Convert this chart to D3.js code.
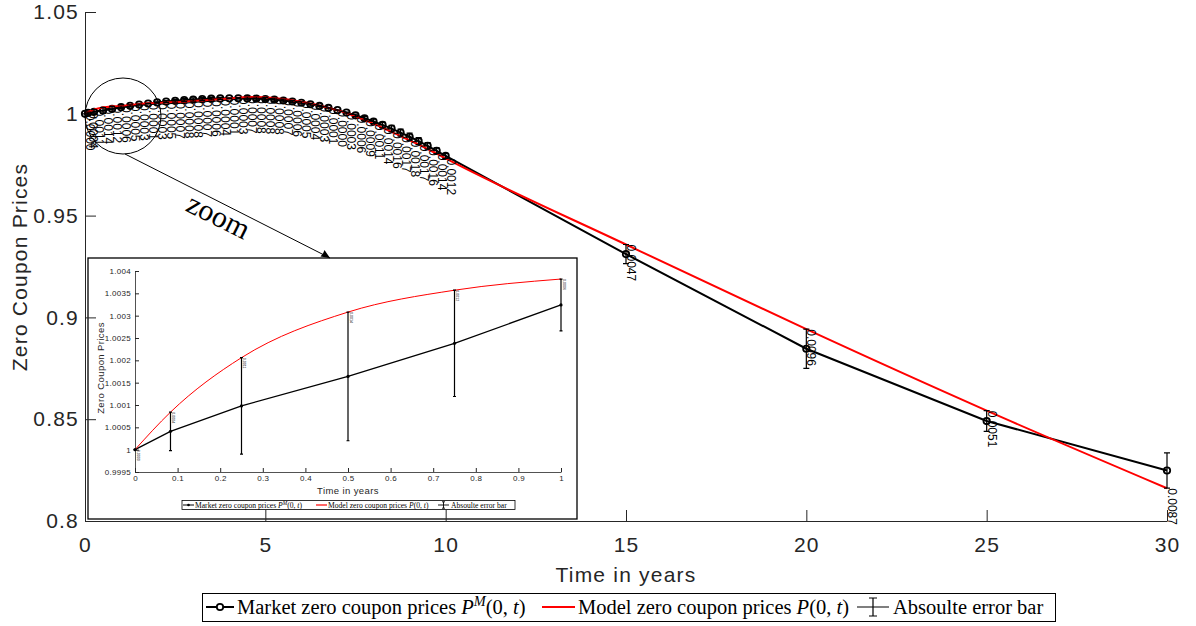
<!DOCTYPE html>
<html>
<head>
<meta charset="utf-8">
<script src="https://cdn.jsdelivr.net/npm/d3@7/dist/d3.min.js"></script>
<style>
  body { margin: 0; background: #fff; }
  svg { display: block; }
</style>
</head>
<body>
<svg id="chart" width="1196" height="626"></svg>
<script>
// maturities (years) and prices
var times = [0, 0.0833, 0.25, 0.5, 0.75, 1, 1.25, 1.5, 1.75, 2, 2.25, 2.5, 2.75, 3, 3.25, 3.5, 3.75, 4,
  4.25, 4.5, 4.75, 5, 5.25, 5.5, 5.75, 6, 6.25, 6.5, 6.75, 7, 7.25, 7.5, 7.75, 8, 8.25, 8.5, 8.75, 9,
  9.25, 9.5, 9.75, 10, 15, 20, 25, 30];
var marketPrices = [1.00000, 1.00041, 1.00098, 1.00164, 1.00238, 1.00324, 1.00390, 1.00451, 1.00507,
  1.00557, 1.00602, 1.00641, 1.00675, 1.00703, 1.00725, 1.00742, 1.00753, 1.00759, 1.00760, 1.00755,
  1.00744, 1.00724, 1.00694, 1.00654, 1.00604, 1.00542, 1.00470, 1.00385, 1.00288, 1.00179, 1.00058,
  0.99925, 0.99780, 0.99623, 0.99453, 0.99272, 0.99078, 0.98872, 0.98655, 0.98425, 0.98183, 0.97929,
  0.9311, 0.8846, 0.8491, 0.8248];
var modelPrices = [1.00000, 1.00084, 1.00206, 1.00308, 1.00357, 1.00382, 1.00440, 1.00481, 1.00517,
  1.00527, 1.00552, 1.00571, 1.00595, 1.00623, 1.00655, 1.00682, 1.00713, 1.00749, 1.00790, 1.00825,
  1.00824, 1.00804, 1.00774, 1.00724, 1.00664, 1.00592, 1.00510, 1.00415, 1.00298, 1.00179, 1.00028,
  0.99865, 0.99690, 0.99513, 0.99313, 0.99112, 0.98908, 0.98692, 0.98485, 0.98265, 0.98043, 0.97809,
  0.9358, 0.8942, 0.8542, 0.8161];

var xTicks = [0, 5, 10, 15, 20, 25, 30];
var yTicks = [0.8, 0.85, 0.9, 0.95, 1, 1.05];
var insetMaxTime = 1;
var insetXTicks = [0, 0.1, 0.2, 0.3, 0.4, 0.5, 0.6, 0.7, 0.8, 0.9, 1];
var insetYTicks = [0.9995, 1, 1.0005, 1.001, 1.0015, 1.002, 1.0025, 1.003, 1.0035, 1.004];
var seriesNames = ['Market zero coupon prices ', 'Model zero coupon prices ', 'Absoulte error bar'];

var sans = '"Liberation Sans", Arial, Helvetica, sans-serif';
var serif = '"Liberation Serif", "Times New Roman", serif';
var axisColor = '#262626';

var svg = d3.select('#chart');

var points = times.map(function(t, i) {
  return { t: t, m: marketPrices[i], p: modelPrices[i], e: Math.abs(modelPrices[i] - marketPrices[i]) };
});

// error bar path, symmetric around the market price
function errPath(xs, ys, cap) {
  return function(d) {
    var xx = xs(d.t), y0 = ys(d.m - d.e), y1 = ys(d.m + d.e);
    return 'M' + xx + ',' + y0 + 'V' + y1 +
      'M' + (xx - cap) + ',' + y0 + 'H' + (xx + cap) +
      'M' + (xx - cap) + ',' + y1 + 'H' + (xx + cap);
  };
}

// legend text with P^M(0,t) / P(0,t)
function mathText(g, x0, yb, size, name, sup) {
  var t = g.append('text').attr('x', x0).attr('y', yb)
    .style('font-family', serif).style('font-size', size + 'px').attr('fill', '#000');
  t.append('tspan').text(name);
  t.append('tspan').style('font-style', 'italic').text('P');
  if (sup) {
    t.append('tspan').style('font-style', 'italic').style('font-size', (size * 0.7) + 'px')
      .attr('dy', -size * 0.38).text(sup);
    t.append('tspan').attr('dy', size * 0.38).text('(0, ');
  } else {
    t.append('tspan').text('(0, ');
  }
  t.append('tspan').style('font-style', 'italic').text('t');
  t.append('tspan').text(')');
}

function styleAxis(g, size, spacing) {
  g.select('.domain').attr('stroke', axisColor).attr('stroke-width', 1);
  g.selectAll('.tick line').attr('stroke', axisColor);
  g.selectAll('.tick text').attr('fill', axisColor)
    .style('font-family', sans).style('font-size', size + 'px').style('letter-spacing', spacing + 'px');
}

// ---------- inset (drawn first, main axes sit on top of it) ----------
var inset = svg.append('g');
inset.append('rect').attr('x', 88).attr('y', 258).attr('width', 489).attr('height', 261)
  .attr('fill', '#fff').attr('stroke', '#000').attr('stroke-width', 1.3);

var ix = d3.scaleLinear().domain([0, 1]).range([135, 561]);
var iy = d3.scaleLinear().domain([0.9995, 1.004]).range([472, 271]);
var insetPts = points.filter(function(d) { return d.t <= insetMaxTime; });

var ixAxis = inset.append('g').attr('transform', 'translate(0,472)')
  .call(d3.axisBottom(ix).tickValues(insetXTicks).tickSizeInner(-4).tickSizeOuter(0).tickPadding(3)
    .tickFormat(function(d) { return String(+d.toFixed(1)); }));
styleAxis(ixAxis, 8, 0.3);
ixAxis.select('.domain').attr('stroke-width', 0.8);
var iyAxis = inset.append('g').attr('transform', 'translate(135,0)')
  .call(d3.axisLeft(iy).tickValues(insetYTicks).tickSizeInner(-4).tickSizeOuter(0).tickPadding(4)
    .tickFormat(function(d) { return String(+d.toFixed(4)); }));
styleAxis(iyAxis, 8, 0.3);
iyAxis.select('.domain').attr('stroke-width', 0.8);

inset.append('text').attr('x', 348).attr('y', 494).attr('text-anchor', 'middle')
  .style('font-family', sans).style('font-size', '9.5px').style('letter-spacing', '0.4px')
  .attr('fill', axisColor).text('Time in years');
inset.append('text').attr('transform', 'translate(104,368) rotate(-90)').attr('text-anchor', 'middle')
  .style('font-family', sans).style('font-size', '9.5px').style('letter-spacing', '0.4px')
  .attr('fill', axisColor).text('Zero Coupon Prices');

inset.append('path').datum(insetPts).attr('fill', 'none').attr('stroke', '#000').attr('stroke-width', 1.3)
  .attr('d', d3.line().x(function(d) { return ix(d.t); }).y(function(d) { return iy(d.m); }));
inset.append('path').datum(insetPts).attr('fill', 'none').attr('stroke', '#ff0000').attr('stroke-width', 1)
  .attr('d', d3.line().curve(d3.curveMonotoneX).x(function(d) { return ix(d.t); }).y(function(d) { return iy(d.p); }));
inset.append('g').selectAll('path').data(insetPts).join('path')
  .attr('fill', 'none').attr('stroke', '#000').attr('stroke-width', 1.2).attr('d', errPath(ix, iy, 1.5));
inset.append('g').selectAll('circle').data(insetPts).join('circle')
  .attr('cx', function(d) { return ix(d.t); }).attr('cy', function(d) { return iy(d.m); })
  .attr('r', 1.6).attr('fill', '#000');
inset.append('g').selectAll('text').data(insetPts).join('text')
  .attr('transform', function(d) { return 'translate(' + (ix(d.t) + 1.5) + ',' + iy(d.p) + ') rotate(90)'; })
  .style('font-family', sans).style('font-size', '3.6px').attr('fill', '#000')
  .text(function(d) { return d.e.toFixed(4); });

// inset legend
var il = inset.append('g');
il.append('rect').attr('x', 182).attr('y', 500.5).attr('width', 333).attr('height', 9)
  .attr('fill', '#fff').attr('stroke', '#000').attr('stroke-width', 0.8);
il.append('line').attr('x1', 183).attr('x2', 194).attr('y1', 505).attr('y2', 505).attr('stroke', '#000').attr('stroke-width', 1);
il.append('circle').attr('cx', 188.5).attr('cy', 505).attr('r', 1.3).attr('fill', '#000');
mathText(il, 195, 507.6, 7.6, seriesNames[0], 'M');
il.append('line').attr('x1', 316).attr('x2', 327).attr('y1', 505).attr('y2', 505).attr('stroke', '#ff0000').attr('stroke-width', 1.2);
mathText(il, 328, 507.6, 7.6, seriesNames[1], null);
il.append('path').attr('fill', 'none').attr('stroke', '#000').attr('stroke-width', 0.9)
  .attr('d', 'M438,505H449M443.5,501.8V508.2M442,501.8H445M442,508.2H445');
il.append('text').attr('x', 451).attr('y', 507.6).style('font-family', serif).style('font-size', '7.6px')
  .attr('fill', '#000').text(seriesNames[2]);

// ---------- main axes ----------
var x = d3.scaleLinear().domain([0, 30]).range([85, 1167]);
var y = d3.scaleLinear().domain([0.8, 1.05]).range([521, 12]);

var xAxis = svg.append('g').attr('transform', 'translate(0,521)')
  .call(d3.axisBottom(x).tickValues(xTicks).tickSizeInner(-11).tickSizeOuter(0).tickPadding(16));
styleAxis(xAxis, 21, 1.2);
var yAxis = svg.append('g').attr('transform', 'translate(85,0)')
  .call(d3.axisLeft(y).tickValues(yTicks).tickSizeInner(-11).tickSizeOuter(0).tickPadding(6)
    .tickFormat(function(d) { return String(+d.toFixed(2)); }));
styleAxis(yAxis, 21, 1.2);

svg.append('text').attr('x', 626).attr('y', 582).attr('text-anchor', 'middle')
  .style('font-family', sans).style('font-size', '21px').style('letter-spacing', '1.2px')
  .attr('fill', axisColor).text('Time in years');
svg.append('text').attr('transform', 'translate(27,267) rotate(-90)').attr('text-anchor', 'middle')
  .style('font-family', sans).style('font-size', '21px').style('letter-spacing', '1.2px')
  .attr('fill', axisColor).text('Zero Coupon Prices');

// series
svg.append('path').datum(points).attr('fill', 'none').attr('stroke', '#000').attr('stroke-width', 2)
  .attr('d', d3.line().x(function(d) { return x(d.t); }).y(function(d) { return y(d.m); }));
svg.append('g').selectAll('circle').data(points).join('circle')
  .attr('cx', function(d) { return x(d.t); }).attr('cy', function(d) { return y(d.m); })
  .attr('r', 3.2).attr('fill', 'none').attr('stroke', '#000').attr('stroke-width', 1.8);
svg.append('path').datum(points).attr('fill', 'none').attr('stroke', '#ff0000').attr('stroke-width', 2)
  .attr('d', d3.line().curve(d3.curveMonotoneX).x(function(d) { return x(d.t); }).y(function(d) { return y(d.p); }));
svg.append('g').selectAll('path').data(points).join('path')
  .attr('fill', 'none').attr('stroke', '#000').attr('stroke-width', 1.2).attr('d', errPath(x, y, 3));
svg.append('g').selectAll('text').data(points).join('text')
  .attr('transform', function(d) { return 'translate(' + (x(d.t) + 1) + ',' + y(d.p) + ') rotate(90)'; })
  .style('font-family', sans).style('font-size', '12px').attr('fill', '#000')
  .text(function(d) { return d.e.toFixed(4); });

// zoom annotation
svg.append('circle').attr('cx', 123).attr('cy', 116).attr('r', 38)
  .attr('fill', 'none').attr('stroke', '#000').attr('stroke-width', 1);
svg.append('line').attr('x1', 125).attr('y1', 154).attr('x2', 330).attr('y2', 258)
  .attr('stroke', '#000').attr('stroke-width', 1);
svg.append('path').attr('d', 'M330,258L320.5,256.5L323,253.5L324.5,250Z').attr('fill', '#000');
svg.append('text').attr('transform', 'translate(214,225) rotate(26.5)').attr('text-anchor', 'middle')
  .style('font-family', serif).style('font-size', '30px').attr('fill', '#000').text('zoom');

// main legend
var lg = svg.append('g');
lg.append('rect').attr('x', 202.5).attr('y', 593.5).attr('width', 853).attr('height', 28)
  .attr('fill', '#fff').attr('stroke', '#000').attr('stroke-width', 1);
lg.append('line').attr('x1', 206).attr('x2', 234).attr('y1', 607).attr('y2', 607).attr('stroke', '#000').attr('stroke-width', 2);
lg.append('circle').attr('cx', 220).attr('cy', 607).attr('r', 3.2).attr('fill', '#fff').attr('stroke', '#000').attr('stroke-width', 1.8);
mathText(lg, 237, 614, 20.5, seriesNames[0], 'M');
lg.append('line').attr('x1', 542).attr('x2', 575).attr('y1', 607).attr('y2', 607).attr('stroke', '#ff0000').attr('stroke-width', 2);
mathText(lg, 578, 614, 20.5, seriesNames[1], null);
lg.append('path').attr('fill', 'none').attr('stroke', '#000').attr('stroke-width', 1.2)
  .attr('d', 'M857,607H889M873,598V616M869,598H877M869,616H877');
lg.append('text').attr('x', 893).attr('y', 614).style('font-family', serif).style('font-size', '20.5px')
  .attr('fill', '#000').text(seriesNames[2]);
</script>
</body>
</html>
